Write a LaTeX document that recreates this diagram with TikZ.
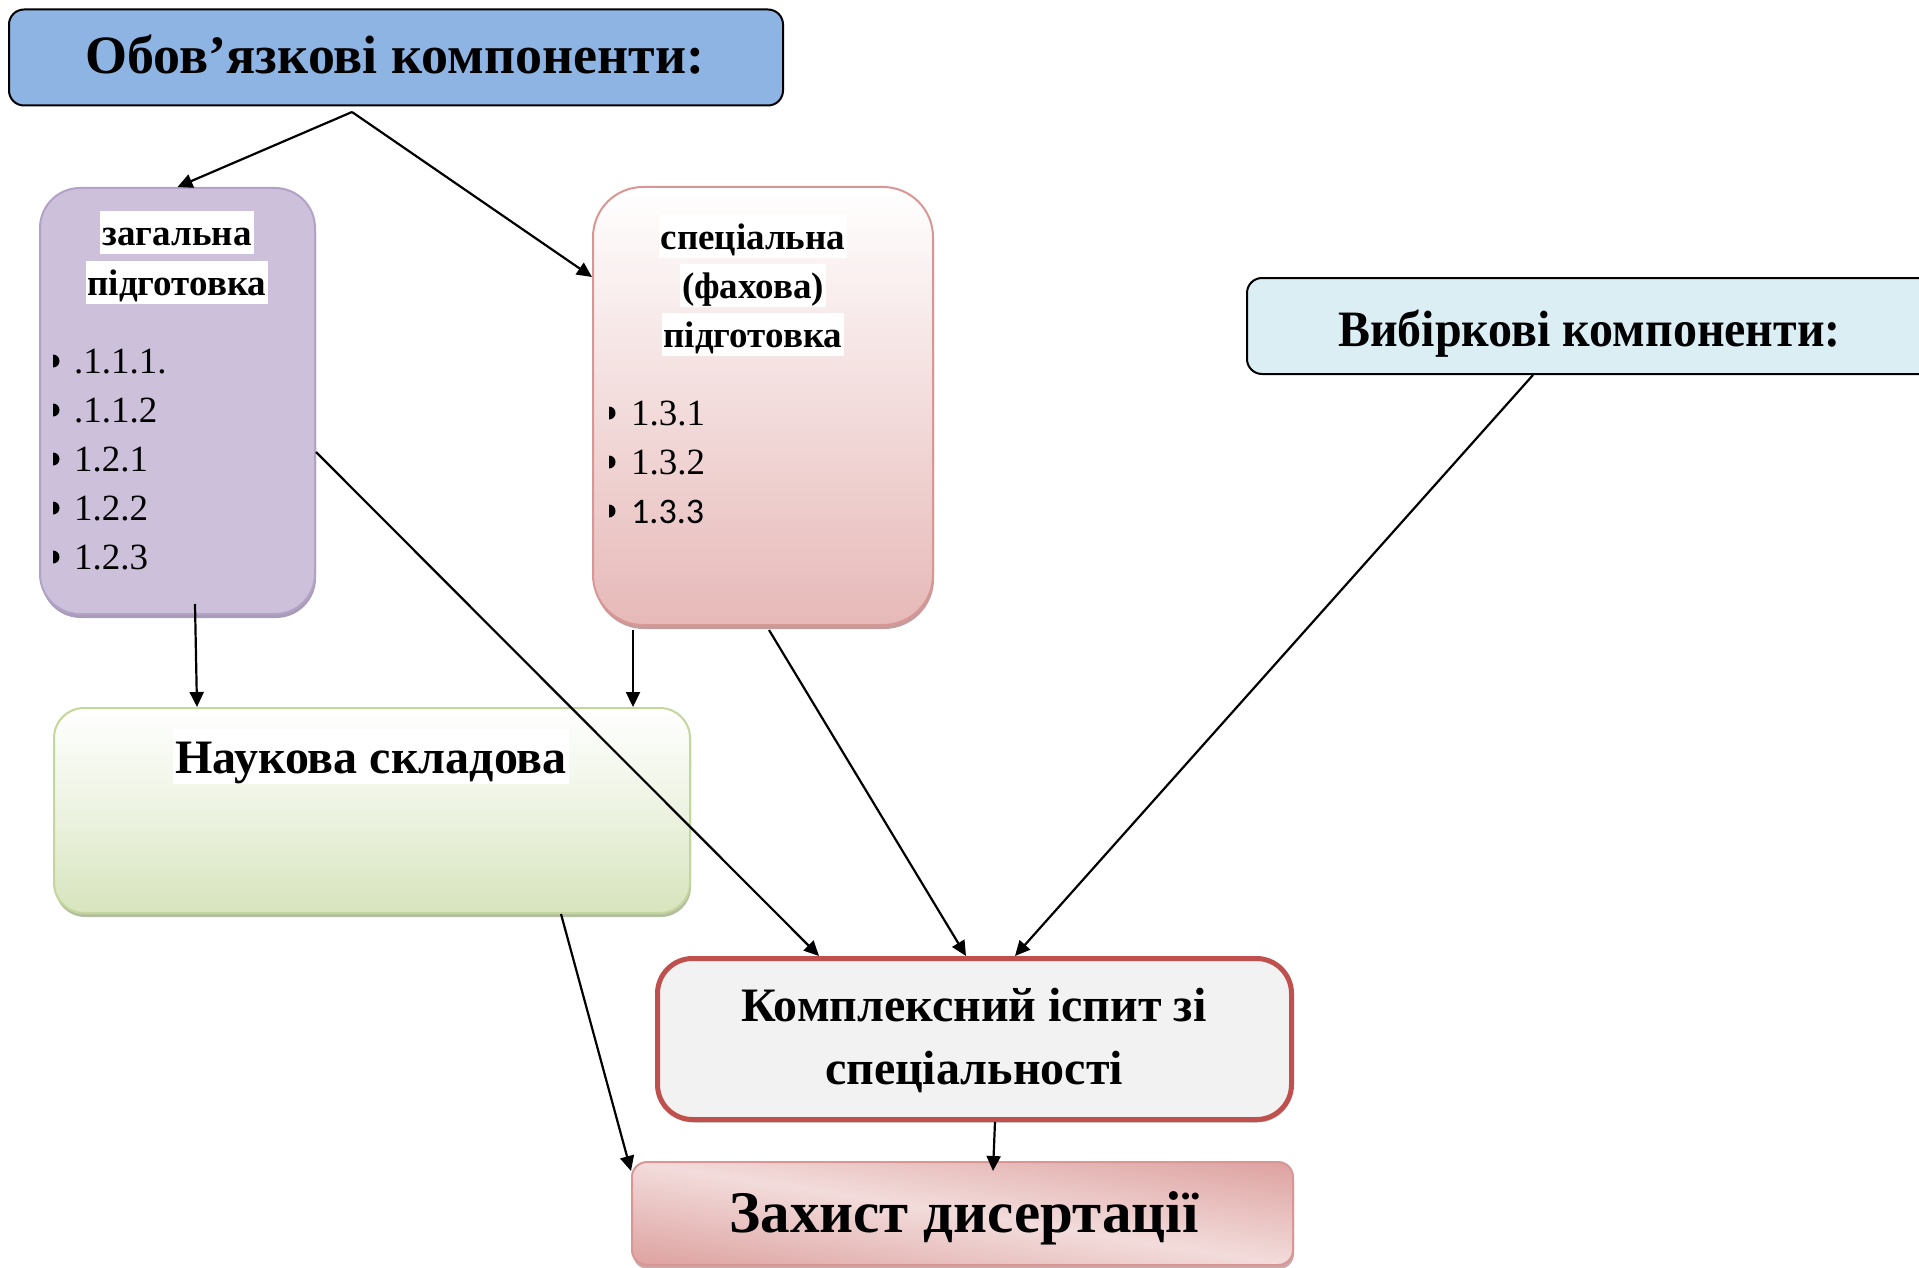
\documentclass[tikz,border=0pt]{standalone}
\usepackage{fontspec}
\setmainfont{Liberation Serif}
\newfontfamily\calfont{Carlito}
\usetikzlibrary{arrows.meta,shadows}
\definecolor{topblue}{HTML}{8EB4E3}
\definecolor{purpfill}{HTML}{CCC0DA}
\definecolor{purpline}{HTML}{B3A2C7}
\definecolor{purpshadow}{HTML}{A89CB8}
\definecolor{specline}{HTML}{D99694}
\definecolor{specbot}{HTML}{E6B9B8}
\definecolor{specshadow}{HTML}{C49C9B}
\definecolor{rightfill}{HTML}{DBEEF4}
\definecolor{greenbot}{HTML}{D7E4BD}
\definecolor{greenline}{HTML}{C3D69B}
\definecolor{greenshadow}{HTML}{B4BFA0}
\definecolor{kompfill}{HTML}{F2F2F2}
\definecolor{kompline}{HTML}{C0504D}
\definecolor{zdark}{HTML}{D99694}
\definecolor{zlight}{HTML}{F2DCDB}
\definecolor{zshadow}{HTML}{C9A9A9}
\pgfdeclarehorizontalshading{zakhshade}{100bp}{color(0bp)=(zdark); color(41bp)=(zdark); color(50bp)=(zlight); color(59bp)=(zdark); color(100bp)=(zdark)}
\newcommand\bulmark[2]{\fill (#1,#2) ++(0,-6.5) arc[start angle=-90,end angle=90,x radius=6.5,y radius=6.5] -- cycle;}
\tikzset{
  panel/.style={rectangle, line width=2pt},
  hl/.style={fill=white, inner xsep=2pt, inner ysep=1pt, text height=33pt, text depth=8pt, anchor=base, font=\fontsize{37}{44}\selectfont\bfseries},
  item/.style={anchor=base west, inner sep=0pt, font=\fontsize{37}{44}\selectfont},
  conn/.style={line width=2.2pt, -{Triangle[length=15pt,width=14pt]}},
  bigtext/.style={anchor=base, inner sep=0pt}
}
\begin{document}
\begin{tikzpicture}[x=1pt,y=-1pt]
\useasboundingbox (0,0) rectangle (1919,1268);
\clip (0,0) rectangle (1919,1268);

% boxes
\node[panel, draw=black, fill=topblue, rounded corners=15pt, minimum width=774pt, minimum height=96pt] (top) at (396,57.5) {};
\node[panel, draw=purpline, fill=purpfill, rounded corners=40pt, minimum width=275pt, minimum height=426pt,
  drop shadow={shadow xshift=1pt, shadow yshift=-4pt, fill=purpshadow, opacity=1}] (zag) at (177.5,401) {};
\node[panel, draw=specline, top color=white, bottom color=specbot, rounded corners=50pt, minimum width=340pt, minimum height=438pt,
  drop shadow={shadow xshift=1pt, shadow yshift=-4pt, fill=specshadow, opacity=1}] (spec) at (763,406) {};
\node[panel, draw=black, fill=rightfill, rounded corners=15pt, minimum width=703pt, minimum height=96pt] (vyb) at (1598.5,326) {};
\node[panel, draw=greenline, top color=white, bottom color=greenbot, middle color=greenbot!45!white, rounded corners=30pt, minimum width=636pt, minimum height=205pt,
  drop shadow={shadow xshift=1pt, shadow yshift=-4pt, fill=greenshadow, opacity=1}] (nauk) at (372,810.5) {};
\node[panel, draw=kompline, fill=kompfill, line width=5pt, rounded corners=35pt, minimum width=634pt, minimum height=161pt,
  drop shadow={shadow xshift=1pt, shadow yshift=-3pt, fill=black!25, opacity=1}] (komp) at (974.5,1039) {};
\node[panel, draw=specline, fill=zdark, rounded corners=15pt, minimum width=661pt, minimum height=103pt,
  path picture={\shade[shading=zakhshade, shading angle=81.1]
    ([shift={(-340pt,-340pt)}]path picture bounding box.center) rectangle ([shift={(340pt,340pt)}]path picture bounding box.center);},
  drop shadow={shadow xshift=1pt, shadow yshift=-4pt, fill=zshadow, opacity=1}] (zakh) at (962.5,1213.5) {};

% texts
\node[bigtext, font=\fontsize{54}{60}\selectfont\bfseries] (ttop) at (395,74) {Обов’язкові компоненти:};
\node[bigtext, font=\fontsize{51}{60}\selectfont\bfseries] (tvyb) at (1589.5,346) {\scalebox{0.94}[1]{Вибіркові компоненти:}};

\node[hl] (z1) at (177,245) {загальна};
\node[hl] (z2) at (177,295) {підготовка};

\node[hl] (s1) at (753,249) {спеціальна};
\node[hl] (s2) at (753,298) {(фахова)};
\node[hl] (s3) at (753,347) {підготовка};

\node[item] (l1) at (74,373) {.1.1.1.};
\node[item] (l2) at (74,422) {.1.1.2};
\node[item] (l3) at (74,471) {1.2.1};
\node[item] (l4) at (74,520) {1.2.2};
\node[item] (l5) at (74,569) {1.2.3};
\bulmark{53}{361}
\bulmark{53}{410}
\bulmark{53}{459}
\bulmark{53}{508}
\bulmark{53}{557}

\node[item] (m1) at (631,425) {1.3.1};
\node[item] (m2) at (631,474) {1.3.2};
\node[item, font=\fontsize{36}{44}\selectfont\calfont] (m3) at (631,523) {1.3.3};
\bulmark{609}{413}
\bulmark{609}{462}
\bulmark{609}{511}

\node[hl, font=\fontsize{48}{56}\selectfont\bfseries, text height=43pt, text depth=10pt] (tnauk) at (371,773) {Наукова складова};

\node[bigtext, font=\fontsize{48}{56}\selectfont\bfseries] (tk1) at (974,1021) {Комплексний іспит зі};
\node[bigtext, font=\fontsize{48}{56}\selectfont\bfseries] (tk2) at (974,1084) {спеціальності};

\node[bigtext, font=\fontsize{59}{66}\selectfont\bfseries] (tzakh) at (964,1232) {Захист дисертації};

% connectors
\coordinate (fork) at ([xshift=-44pt,yshift=-5.5pt]top.south);
\draw[conn] (fork) -- (zag.north);
\draw[conn] (fork) -- ([yshift=129pt]spec.west);
\draw[conn] ([xshift=17.5pt,yshift=11pt]zag.south) -- ([xshift=-175pt]nauk.north);
\draw[conn] ([xshift=-130pt,yshift=-4pt]spec.south) -- ([xshift=261pt]nauk.north);
\draw[conn] ([yshift=-51pt]zag.east) -- ([xshift=-155.5pt]komp.north);
\draw[conn] ([xshift=6pt,yshift=-4pt]spec.south) -- ([xshift=-8.5pt]komp.north);
\draw[conn] ([xshift=-65.5pt]vyb.south) -- ([xshift=40.5pt]komp.north);
\draw[conn] ([xshift=189pt]nauk.south) -- ([yshift=-10pt]zakh.north west);
\draw[conn] ([xshift=20.5pt]komp.south) -- ([xshift=30.5pt,yshift=-10pt]zakh.north);
\end{tikzpicture}
\end{document}
